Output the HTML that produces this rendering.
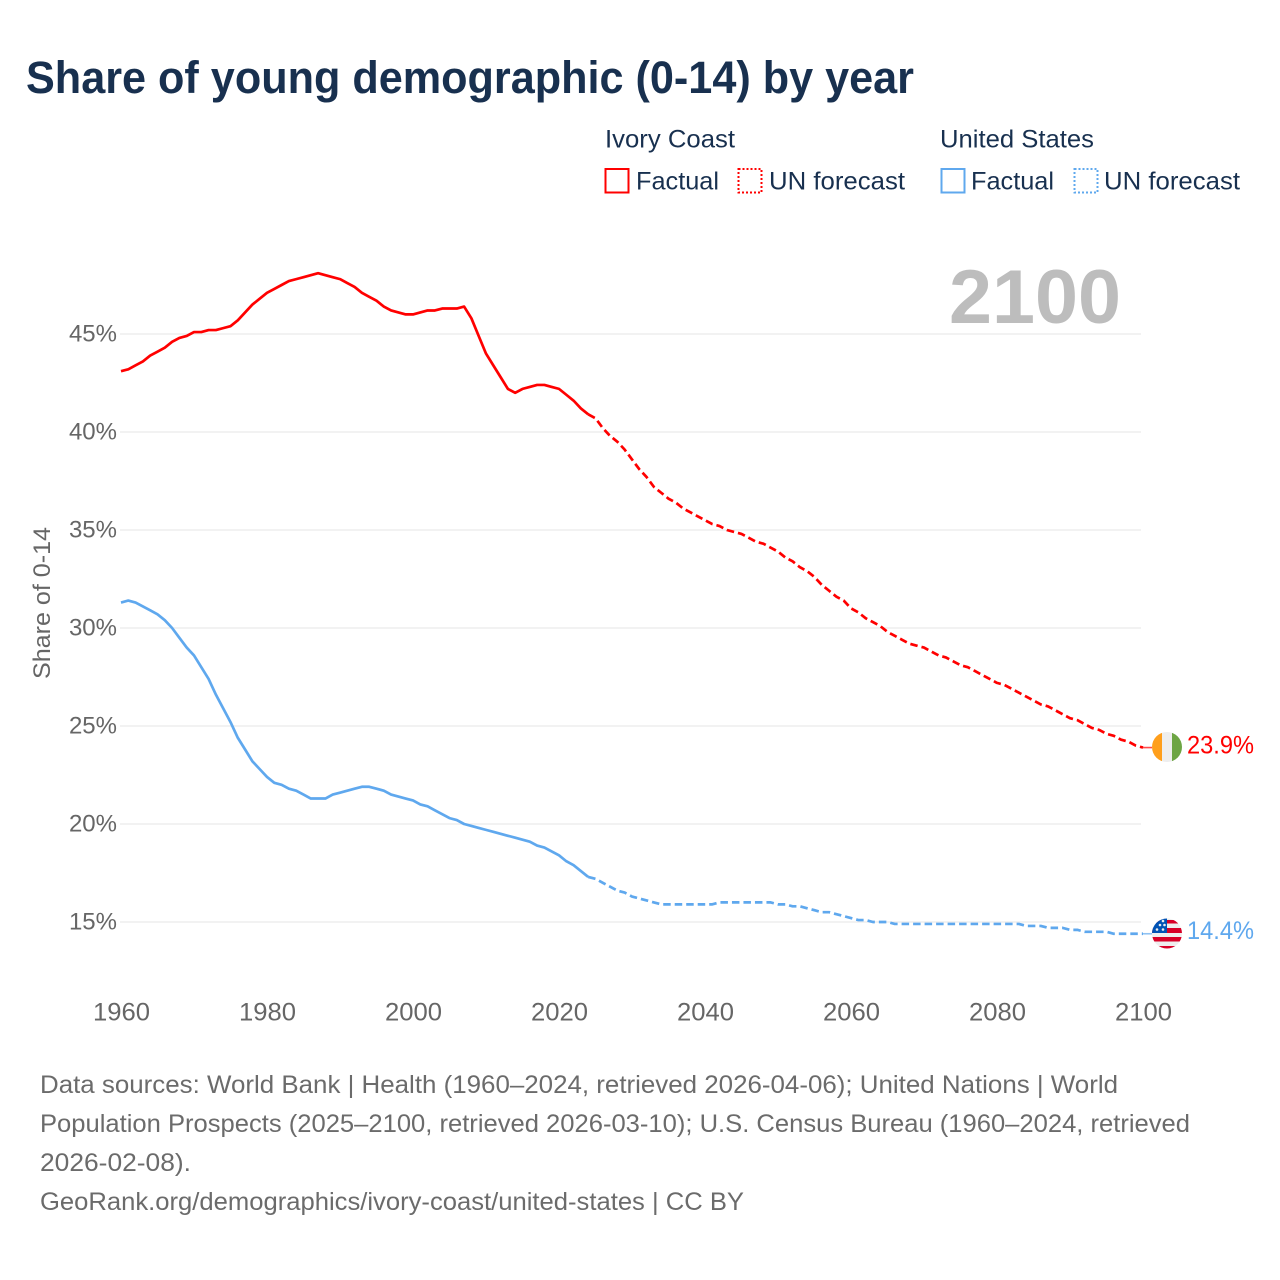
<!DOCTYPE html>
<html lang="en">
<head>
<meta charset="utf-8">
<title>Share of young demographic (0-14) by year</title>
<style>
html,body{margin:0;padding:0;background:#fff}
svg{display:block}
text{font-family:"Liberation Sans",sans-serif}
</style>
</head>
<body>
<svg id="chart" xmlns="http://www.w3.org/2000/svg" width="1280" height="1280" viewBox="0 0 1280 1280">
  <rect width="1280" height="1280" fill="#fff"/>
  <text x="26" y="93" font-size="45" font-weight="700" fill="#18304f" textLength="888" lengthAdjust="spacingAndGlyphs">Share of young demographic (0-14) by year</text>

  <g font-size="25" fill="#18304f">
    <text x="605" y="147.5" textLength="130" lengthAdjust="spacingAndGlyphs">Ivory Coast</text>
    <rect x="605.5" y="169" width="23" height="23.5" fill="none" stroke="#ff0000" stroke-width="2"/>
    <text x="636" y="189.5" textLength="83" lengthAdjust="spacingAndGlyphs">Factual</text>
    <rect x="738.5" y="169" width="23" height="23.5" fill="none" stroke="#ff0000" stroke-width="2" stroke-dasharray="2 2"/>
    <text x="769" y="189.5" textLength="136" lengthAdjust="spacingAndGlyphs">UN forecast</text>
    <text x="940" y="147.5" textLength="154" lengthAdjust="spacingAndGlyphs">United States</text>
    <rect x="941.5" y="169" width="23" height="23.5" fill="none" stroke="#5fa8ee" stroke-width="2"/>
    <text x="971" y="189.5" textLength="83" lengthAdjust="spacingAndGlyphs">Factual</text>
    <rect x="1074.5" y="169" width="23" height="23.5" fill="none" stroke="#5fa8ee" stroke-width="2" stroke-dasharray="2 2"/>
    <text x="1104" y="189.5" textLength="136" lengthAdjust="spacingAndGlyphs">UN forecast</text>
  </g>

  <g id="grid"></g>
  <g id="yticks" font-size="24" fill="#666" text-anchor="end"></g>
  <g id="xticks" font-size="25" fill="#666" text-anchor="middle"></g>
  <text transform="translate(50,679) rotate(-90)" font-size="24" fill="#666" textLength="152" lengthAdjust="spacingAndGlyphs">Share of 0-14</text>

  <text x="949" y="323" font-size="76" font-weight="700" fill="#bdbdbd" textLength="172" lengthAdjust="spacingAndGlyphs">2100</text>

  <g id="series"></g>

  <g>
    <clipPath id="clipCI"><circle cx="1167" cy="747" r="15"/></clipPath>
    <g clip-path="url(#clipCI)">
      <rect x="1152" y="732" width="10" height="30" fill="#ff9f1c"/>
      <rect x="1162" y="732" width="10" height="30" fill="#eeeeee"/>
      <rect x="1172" y="732" width="10" height="30" fill="#6da544"/>
    </g>
  </g>
  <g>
    <clipPath id="clipUS"><circle cx="1167" cy="933.5" r="15"/></clipPath>
    <g clip-path="url(#clipUS)">
      <rect x="1152" y="918" width="30" height="31" fill="#eeeeee"/>
      <rect x="1152" y="920" width="30" height="3.5" fill="#d80027"/>
      <rect x="1152" y="928" width="30" height="5" fill="#d80027"/>
      <rect x="1152" y="937" width="30" height="4.5" fill="#d80027"/>
      <rect x="1152" y="946" width="30" height="3" fill="#d80027"/>
      <rect x="1152" y="918" width="15" height="15" fill="#0052b4"/>
      <circle cx="1157" cy="929.5" r="1.3" fill="#eee"/>
      <circle cx="1163" cy="929.5" r="1.3" fill="#eee"/>
      <circle cx="1160" cy="925" r="1.3" fill="#eee"/>
      <circle cx="1164.5" cy="925" r="1.3" fill="#eee"/>
      <circle cx="1163" cy="921" r="1.3" fill="#eee"/>
    </g>
  </g>

  <text x="1187" y="753.5" font-size="25" fill="#ff0000" textLength="67" lengthAdjust="spacingAndGlyphs">23.9%</text>
  <text x="1187" y="939" font-size="25" fill="#5fa8ee" textLength="67" lengthAdjust="spacingAndGlyphs">14.4%</text>

  <g font-size="25" fill="#6b6b6b">
    <text x="40" y="1093" textLength="1078" lengthAdjust="spacingAndGlyphs">Data sources: World Bank | Health (1960–2024, retrieved 2026-04-06); United Nations | World</text>
    <text x="40" y="1132" textLength="1150" lengthAdjust="spacingAndGlyphs">Population Prospects (2025–2100, retrieved 2026-03-10); U.S. Census Bureau (1960–2024, retrieved</text>
    <text x="40" y="1171" textLength="151" lengthAdjust="spacingAndGlyphs">2026-02-08).</text>
    <text x="40" y="1210" textLength="704" lengthAdjust="spacingAndGlyphs">GeoRank.org/demographics/ivory-coast/united-states | CC BY</text>
  </g>
</svg>

<script>
const yTickValues = [15, 20, 25, 30, 35, 40, 45];
const xTickYears = [1960, 1980, 2000, 2020, 2040, 2060, 2080, 2100];
const startYear = 1960;
const lastFactualYear = 2025;
const ivoryCoastValues = [
  43.1,43.2,43.4,43.6,43.9,44.1,44.3,44.6,44.8,44.9,
  45.1,45.1,45.2,45.2,45.3,45.4,45.7,46.1,46.5,46.8,
  47.1,47.3,47.5,47.7,47.8,47.9,48.0,48.1,48.0,47.9,
  47.8,47.6,47.4,47.1,46.9,46.7,46.4,46.2,46.1,46.0,
  46.0,46.1,46.2,46.2,46.3,46.3,46.3,46.4,45.8,44.9,
  44.0,43.4,42.8,42.2,42.0,42.2,42.3,42.4,42.4,42.3,
  42.2,41.9,41.6,41.2,40.9,40.7,40.2,39.8,39.5,39.1,
  38.6,38.1,37.7,37.2,36.9,36.6,36.4,36.1,35.9,35.7,
  35.5,35.3,35.2,35.0,34.9,34.8,34.6,34.4,34.3,34.1,
  33.9,33.6,33.4,33.1,32.9,32.6,32.2,31.9,31.6,31.4,
  31.0,30.8,30.5,30.3,30.1,29.8,29.6,29.4,29.2,29.1,
  29.0,28.8,28.6,28.5,28.3,28.1,28.0,27.8,27.6,27.4,
  27.2,27.1,26.9,26.7,26.5,26.3,26.1,26.0,25.8,25.6,
  25.4,25.3,25.1,24.9,24.8,24.6,24.5,24.3,24.2,24.0,
  23.9
];
const unitedStatesValues = [
  31.3,31.4,31.3,31.1,30.9,30.7,30.4,30.0,29.5,29.0,
  28.6,28.0,27.4,26.6,25.9,25.2,24.4,23.8,23.2,22.8,
  22.4,22.1,22.0,21.8,21.7,21.5,21.3,21.3,21.3,21.5,
  21.6,21.7,21.8,21.9,21.9,21.8,21.7,21.5,21.4,21.3,
  21.2,21.0,20.9,20.7,20.5,20.3,20.2,20.0,19.9,19.8,
  19.7,19.6,19.5,19.4,19.3,19.2,19.1,18.9,18.8,18.6,
  18.4,18.1,17.9,17.6,17.3,17.2,17.0,16.8,16.6,16.5,
  16.3,16.2,16.1,16.0,15.9,15.9,15.9,15.9,15.9,15.9,
  15.9,15.9,16.0,16.0,16.0,16.0,16.0,16.0,16.0,16.0,
  15.9,15.9,15.8,15.8,15.7,15.6,15.5,15.5,15.4,15.3,
  15.2,15.1,15.1,15.0,15.0,15.0,14.9,14.9,14.9,14.9,
  14.9,14.9,14.9,14.9,14.9,14.9,14.9,14.9,14.9,14.9,
  14.9,14.9,14.9,14.9,14.8,14.8,14.8,14.7,14.7,14.7,
  14.6,14.6,14.5,14.5,14.5,14.5,14.4,14.4,14.4,14.4,
  14.4
];

const NS = 'http://www.w3.org/2000/svg';
const xScale = year => 121 + (year - 1960) * 7.3;
const yScale = value => 922 - (value - 15) * 19.6;

const gridGroup = document.getElementById('grid');
const yTickGroup = document.getElementById('yticks');
const xTickGroup = document.getElementById('xticks');
const seriesGroup = document.getElementById('series');

yTickValues.forEach(v => {
  const line = document.createElementNS(NS, 'line');
  
  
  line.setAttribute('x1', 120);
  line.setAttribute('x2', 1141);
  line.setAttribute('y1', yScale(v));
  line.setAttribute('y2', yScale(v));
  line.setAttribute('stroke', '#eeeeee');
  line.setAttribute('stroke-width', 1.5);
  gridGroup.appendChild(line);

  const label = document.createElementNS(NS, 'text');
  
  
  label.setAttribute('x', 117);
  label.setAttribute('y', yScale(v) + 7.5);
  label.textContent = v + '%';
  yTickGroup.appendChild(label);
});

xTickYears.forEach(year => {
  const label = document.createElementNS(NS, 'text');
  
  
  label.setAttribute('x', xScale(year) + 0.5);
  label.setAttribute('y', 1020.5);
  label.setAttribute('textLength', 57);
  label.setAttribute('lengthAdjust', 'spacingAndGlyphs');
  label.textContent = year;
  xTickGroup.appendChild(label);
});

function pointsFor(values, fromYear, toYear) {
  const pts = [];
  values.forEach((v, i) => {
    const year = startYear + i;
    if (year >= fromYear && year <= toYear) {
      pts.push(xScale(year).toFixed(2) + ',' + yScale(v).toFixed(2));
    }
  });
  return pts.join(' ');
}

function addLine(points, color, dashed, name) {
  const line = document.createElementNS(NS, 'polyline');
  
  
  line.setAttribute('points', points);
  line.setAttribute('fill', 'none');
  line.setAttribute('stroke', color);
  line.setAttribute('stroke-width', 2.7);
  line.setAttribute('stroke-linejoin', 'round');
  if (dashed) line.setAttribute('stroke-dasharray', '7.5 4');
  seriesGroup.appendChild(line);
}

function addConnector(values, color, name) {
  const last = values[values.length - 1];
  const line = document.createElementNS(NS, 'line');
  
  
  line.setAttribute('x1', xScale(2100));
  line.setAttribute('x2', 1152);
  line.setAttribute('y1', yScale(last));
  line.setAttribute('y2', yScale(last));
  line.setAttribute('stroke', color);
  line.setAttribute('stroke-width', 1.6);
  line.setAttribute('stroke-opacity', 0.7);
  seriesGroup.appendChild(line);
}

addLine(pointsFor(ivoryCoastValues, 1960, lastFactualYear - 1), '#ff0000', false, 'ivory-coast-factual-line');
addLine(pointsFor(ivoryCoastValues, lastFactualYear - 1, 2100), '#ff0000', true, 'ivory-coast-forecast-line');
addLine(pointsFor(unitedStatesValues, 1960, lastFactualYear - 1), '#5fa8ee', false, 'united-states-factual-line');
addLine(pointsFor(unitedStatesValues, lastFactualYear - 1, 2100), '#5fa8ee', true, 'united-states-forecast-line');
addConnector(ivoryCoastValues, '#ff0000', 'ivory-coast-flag-connector');
addConnector(unitedStatesValues, '#5fa8ee', 'united-states-flag-connector');
</script>
</body>
</html>
